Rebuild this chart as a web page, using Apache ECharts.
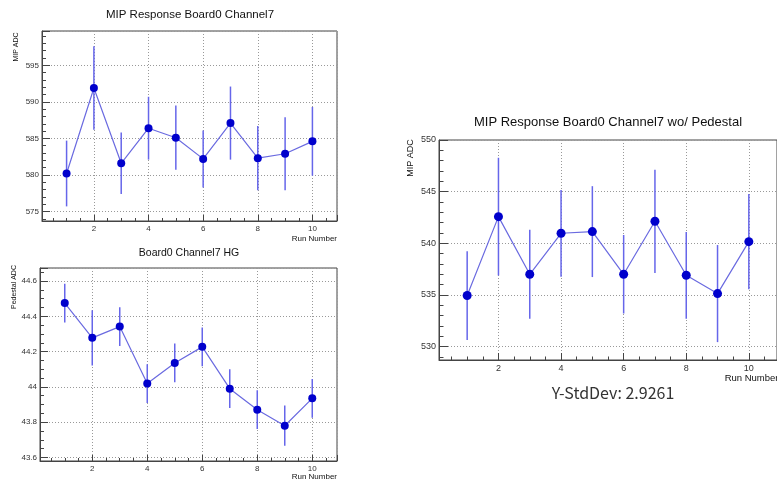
<!DOCTYPE html>
<html>
<head>
<meta charset="utf-8">
<script src="https://cdn.jsdelivr.net/npm/echarts@6/dist/echarts.min.js"></script>
<style>html,body{margin:0;padding:0;background:#fff;}#c{width:777px;height:481px;}</style>
</head>
<body>
<div id="c"></div>
<script>
// ---- data ----
var runs = [1, 2, 3, 4, 5, 6, 7, 8, 9, 10];
var mipVals = [580.2, 591.9, 581.6, 586.4, 585.1, 582.2, 587.1, 582.3, 582.9, 584.6];
var mipErrs = [4.5, 5.7, 4.2, 4.3, 4.4, 3.9, 5.0, 4.4, 5.0, 4.7];
var pedVals = [44.475, 44.278, 44.342, 44.019, 44.136, 44.227, 43.990, 43.871, 43.780, 43.935];
var pedErrs = [0.11, 0.157, 0.11, 0.11, 0.11, 0.11, 0.11, 0.11, 0.114, 0.11];
var subVals = [534.94, 542.58, 537.0, 540.97, 541.13, 537.0, 542.13, 536.9, 535.13, 540.16];
var subErrs = [4.3, 5.7, 4.3, 4.2, 4.4, 3.8, 5.0, 4.2, 4.7, 4.6];

var titles = ['MIP Response Board0 Channel7', 'Board0 Channel7 HG', 'MIP Response Board0 Channel7 wo/ Pedestal'];
var yTitles = ['MIP ADC', 'Pedestal ADC', 'MIP ADC'];
var xTitle = 'Run Number';
var statText = 'Y-StdDev: 2.9261';

var FONT = '"Liberation Sans", Arial, sans-serif';
var LINE_C = '#6a6ae0';
var ERR_C = '#6666ea';
var PT_C = '#0000cc';
var AX_C = '#444';

function pts(vals, errs) { return runs.map(function (r, i) { return [r, vals[i], errs[i]]; }); }

function xAxisOf(gi, fs, tickLen) {
  return {
    type: 'value', gridIndex: gi, min: 0.1, max: 10.9,
    axisLine: { show: true, onZero: false, lineStyle: { color: AX_C, width: 1 } },
    axisTick: { show: true, inside: true, length: tickLen, lineStyle: { color: AX_C } },
    minorTick: { show: true, splitNumber: 4, length: tickLen / 2, lineStyle: { color: AX_C } },
    splitLine: { show: true, lineStyle: { type: [1, 2], color: '#999', width: 1 } },
    axisLabel: { fontSize: fs, color: '#333', fontFamily: FONT, margin: 4, showMinLabel: false, showMaxLabel: false }
  };
}
function yAxisOf(gi, mn, mx, minorSplit, fs, tickLen, showMax, fmt) {
  return {
    type: 'value', gridIndex: gi, min: mn, max: mx, scale: true,
    axisLine: { show: true, onZero: false, lineStyle: { color: AX_C, width: 1 } },
    axisTick: { show: true, inside: true, length: tickLen, lineStyle: { color: AX_C } },
    minorTick: { show: true, splitNumber: minorSplit, length: tickLen / 2, lineStyle: { color: AX_C } },
    splitLine: { show: true, lineStyle: { type: [1, 2], color: '#999', width: 1 } },
    axisLabel: { fontSize: fs, color: '#333', fontFamily: FONT, margin: 3, showMinLabel: false, showMaxLabel: showMax, formatter: fmt }
  };
}
function errSeries(gi, data, w) {
  return {
    type: 'custom', xAxisIndex: gi, yAxisIndex: gi, data: data, z: 3,
    encode: { x: 0, y: 1 },
    renderItem: function (params, api) {
      var x = api.value(0), y = api.value(1), e = api.value(2);
      var a = api.coord([x, y + e]), b = api.coord([x, y - e]);
      return { type: 'line', shape: { x1: a[0], y1: a[1], x2: b[0], y2: b[1] }, style: { stroke: ERR_C, lineWidth: w } };
    }
  };
}
function lineSeries(gi, data, sz) {
  return {
    type: 'line', xAxisIndex: gi, yAxisIndex: gi, data: data.map(function (d) { return [d[0], d[1]]; }),
    symbol: 'circle', symbolSize: sz, z: 4,
    lineStyle: { color: LINE_C, width: 1.2 },
    itemStyle: { color: PT_C },
    animation: false
  };
}
function txt(x, y, s, fs, opts) {
  opts = opts || {};
  return {
    type: 'text', x: x, y: y, rotation: opts.rot || 0, z: 10,
    style: { text: s, fontSize: fs, fontFamily: opts.font || FONT, fill: opts.fill || '#111',
      align: opts.align || 'center', verticalAlign: 'middle' }
  };
}

var chart = echarts.init(document.getElementById('c'), null, { renderer: 'canvas' });
chart.setOption({
  animation: false,
  backgroundColor: '#fff',
  grid: [
    { left: 42, top: 31, width: 295, height: 190, show: true, borderColor: AX_C, borderWidth: 1, backgroundColor: 'transparent' },
    { left: 40, top: 268, width: 297, height: 193, show: true, borderColor: AX_C, borderWidth: 1, backgroundColor: 'transparent' },
    { left: 439, top: 140, width: 339, height: 220, show: true, borderColor: AX_C, borderWidth: 1, backgroundColor: 'transparent' }
  ],
  xAxis: [xAxisOf(0, 8, 6), xAxisOf(1, 8, 6), xAxisOf(2, 9, 7)],
  yAxis: [
    yAxisOf(0, 573.7, 599.7, 5, 8, 8, false),
    yAxisOf(1, 43.58, 44.674, 4, 8, 8, false, function (v) { return String(Math.round(v * 10) / 10); }),
    yAxisOf(2, 528.7, 550, 5, 9, 9, true)
  ],
  series: [
    errSeries(0, pts(mipVals, mipErrs), 1.5), lineSeries(0, pts(mipVals, mipErrs), 8),
    errSeries(1, pts(pedVals, pedErrs), 1.5), lineSeries(1, pts(pedVals, pedErrs), 8),
    errSeries(2, pts(subVals, subErrs), 1.5), lineSeries(2, pts(subVals, subErrs), 9)
  ],
  graphic: [
    txt(190, 15, titles[0], 11.5),
    txt(189, 253, titles[1], 10.5),
    txt(608, 122, titles[2], 13),
    txt(16.5, 47, yTitles[0], 7, { rot: Math.PI / 2 }),
    txt(14, 287, yTitles[1], 7, { rot: Math.PI / 2 }),
    txt(411, 158, yTitles[2], 9, { rot: Math.PI / 2 }),
    txt(337, 239, xTitle, 8, { align: 'right' }),
    txt(337, 477, xTitle, 8, { align: 'right' }),
    txt(778.5, 378, xTitle, 9.5, { align: 'right' }),
    txt(613, 393, statText, 16, { font: '"Noto Sans CJK SC", "Noto Sans", sans-serif', fill: '#333' })
  ]
});
</script>
</body>
</html>
